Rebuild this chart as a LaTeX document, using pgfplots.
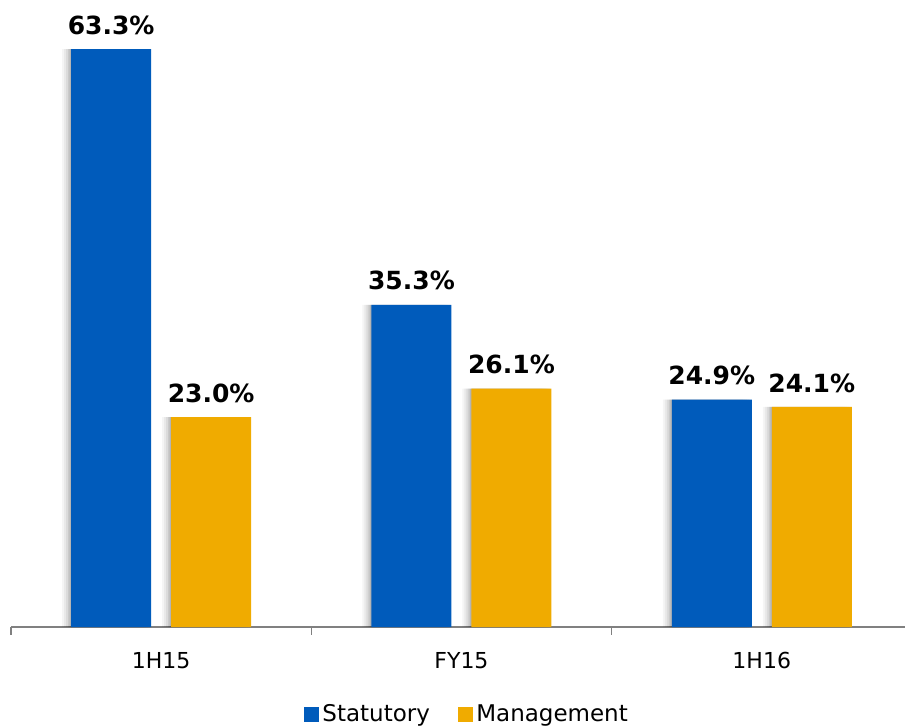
\documentclass[border=0pt]{standalone}
\usepackage{pgfplots}
\pgfplotsset{compat=1.18}
\usepackage{fontspec}
\setmainfont{DejaVu Sans}

\definecolor{statblue}{RGB}{0,91,187}
\definecolor{mgmtgold}{RGB}{240,171,0}
\definecolor{axisgray}{RGB}{128,128,128}

% soft shadow on the left of each bar, built from thin faint layers
\tikzset{barshadow/.style={
    preaction={fill=black, opacity=0.04, transform canvas={xshift=-9bp}},
    preaction={fill=black, opacity=0.05, transform canvas={xshift=-7bp}},
    preaction={fill=black, opacity=0.06, transform canvas={xshift=-5bp}},
    preaction={fill=black, opacity=0.08, transform canvas={xshift=-3bp}},
    preaction={fill=black, opacity=0.10, transform canvas={xshift=-1.5bp}}}}

\begin{document}
\begin{tikzpicture}
\useasboundingbox (0,0) rectangle (905bp,728bp);
\begin{axis}[
    at={(11bp,101bp)}, anchor=south west,
    scale only axis, width=894bp, height=639bp,
    xmin=-0.5, xmax=2.477, ymin=0, ymax=70,
    clip=false,
    axis x line*=bottom, axis y line=none,
    x axis line style={axisgray, line width=1.3bp, -},
    ybar, bar width=80bp,
    xtick={0,1,2}, xticklabels={1H15,FY15,1H16},
    minor xtick={-0.5,0.5,1.5,2.5},
    major tick length=0pt, minor tick length=8bp, tick align=outside,
    minor tick style={axisgray, line width=1.3bp},
    xticklabel style={font=\fontsize{22bp}{26bp}\selectfont, anchor=base, yshift=-41bp},
    nodes near coords, point meta=explicit symbolic,
    every node near coord/.append style={font=\bfseries\fontsize{25bp}{30bp}\selectfont,
        anchor=base, yshift=15bp, inner sep=0pt, text=black},
    legend style={at={(0.51,-0.157)}, anchor=south, draw=none, fill=none,
        legend columns=2, font=\fontsize{23bp}{27bp}\selectfont,
        /tikz/every odd column/.append style={column sep=2bp},
        /tikz/every even column/.append style={column sep=26bp}},
    legend cell align=left,
]
\addplot[fill=statblue, draw=none, bar shift=-50bp, barshadow, forget plot]
    coordinates {(0,63.3) [63.3\%] (1,35.3) [35.3\%] (2,24.9) [24.9\%]};
\addplot[fill=mgmtgold, draw=none, bar shift=50bp, barshadow, forget plot]
    coordinates {(0,23.0) [23.0\%] (1,26.1) [26.1\%] (2,24.1) [24.1\%]};
\addlegendimage{legend image code/.code={\fill[statblue] (0bp,-7bp) rectangle (14bp,7bp);}}
\addlegendimage{legend image code/.code={\fill[mgmtgold] (0bp,-7bp) rectangle (14bp,7bp);}}
\legend{Statutory, Management}
\end{axis}
\end{tikzpicture}
\end{document}
